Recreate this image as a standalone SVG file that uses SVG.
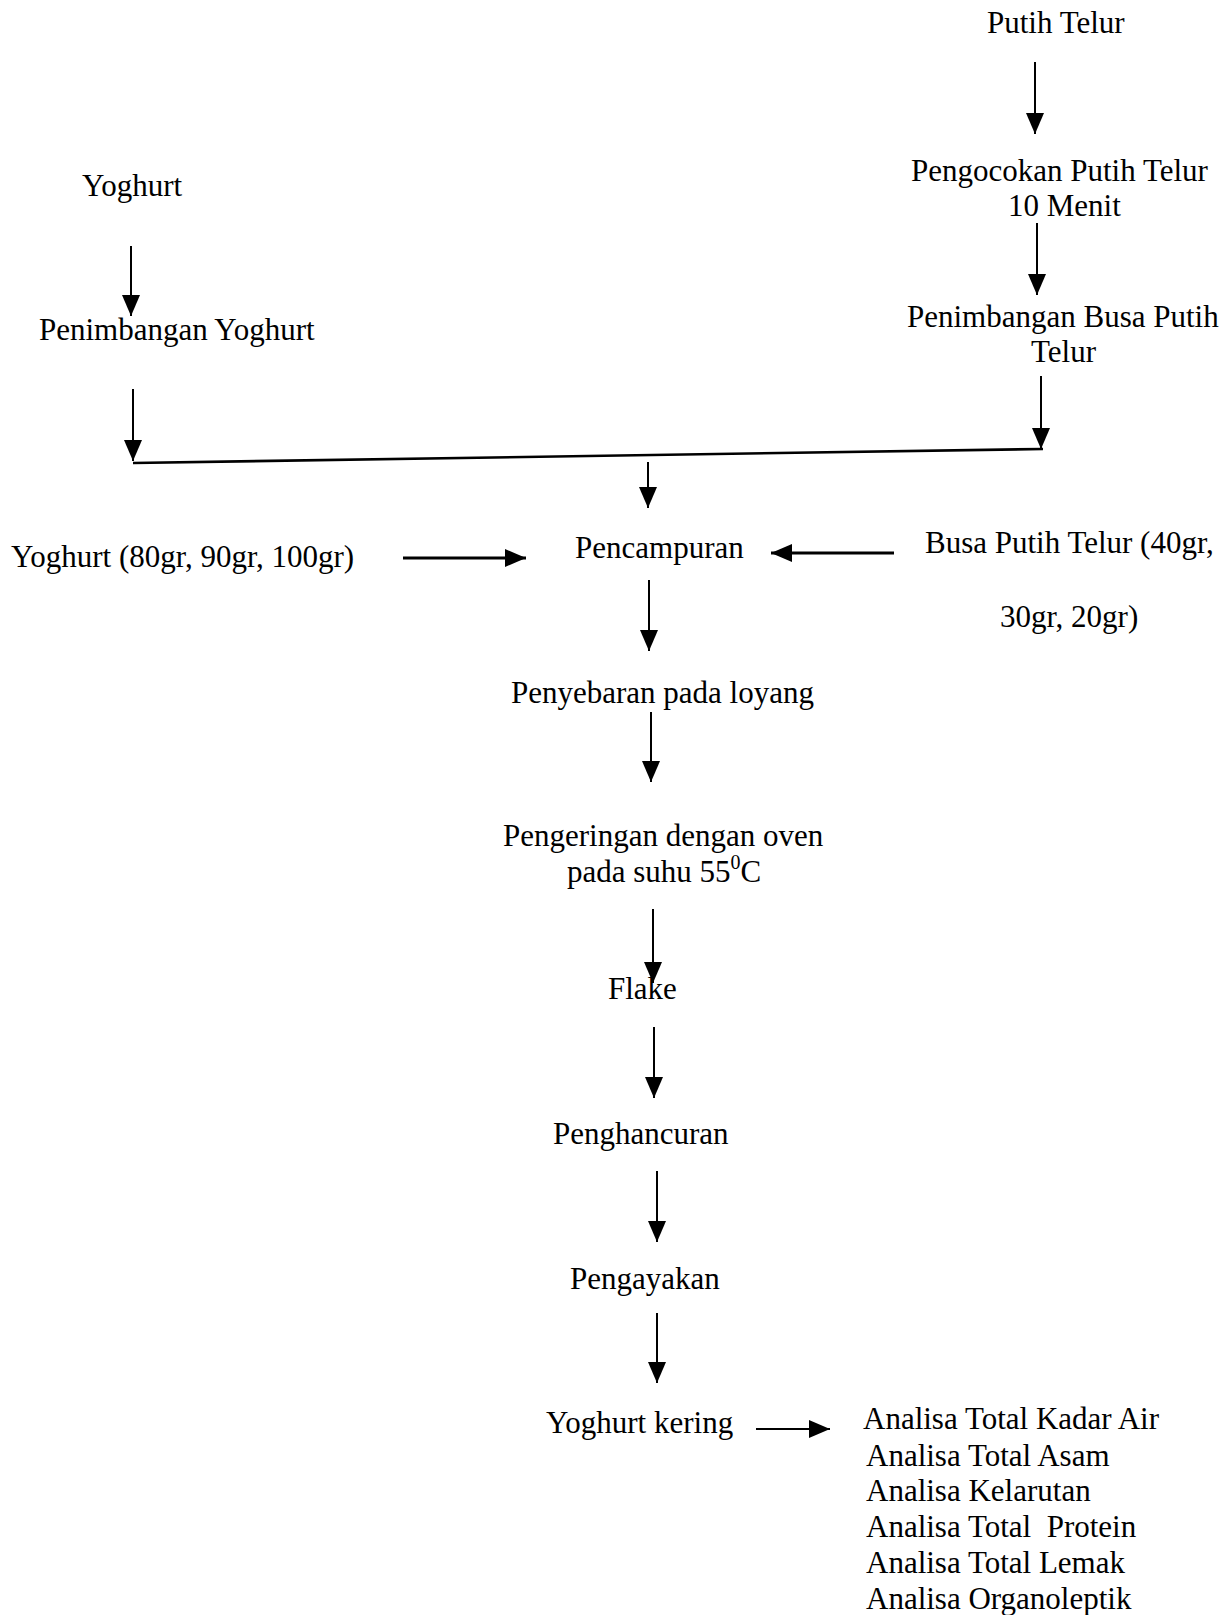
<svg xmlns="http://www.w3.org/2000/svg" width="1230" height="1615" viewBox="0 0 1230 1615">
<style>
text{font-family:"Liberation Serif","Times New Roman",serif;font-size:31px;fill:#000}
.c{stroke:#000;stroke-width:2;fill:none}
.t{stroke:#000;stroke-width:3;fill:none}
</style>
<defs>
<marker id="ah" markerUnits="userSpaceOnUse" markerWidth="22" markerHeight="20" refX="21" refY="9" orient="auto"><path d="M0,0 L21,9 L0,18 z" fill="#000"/></marker>
</defs>
<rect width="1230" height="1615" fill="#fff"/>
<g id="connectors">
<line class="c" x1="1035" y1="62" x2="1035" y2="134" marker-end="url(#ah)"/>
<line class="c" x1="1037" y1="223" x2="1037" y2="295" marker-end="url(#ah)"/>
<line class="c" x1="1041" y1="376" x2="1041" y2="449" marker-end="url(#ah)"/>
<line class="c" x1="131" y1="246" x2="131" y2="316" marker-end="url(#ah)"/>
<line class="c" x1="133" y1="389" x2="133" y2="461" marker-end="url(#ah)"/>
<line x1="133" y1="463" x2="1043" y2="449" stroke="#000" stroke-width="2.6"/>
<line class="c" x1="648" y1="462" x2="648" y2="508" marker-end="url(#ah)"/>
<line class="t" x1="403" y1="558" x2="526" y2="558" marker-end="url(#ah)"/>
<line class="t" x1="894" y1="553" x2="771" y2="553" marker-end="url(#ah)"/>
<line class="c" x1="649" y1="580" x2="649" y2="651" marker-end="url(#ah)"/>
<line class="c" x1="651" y1="712" x2="651" y2="782" marker-end="url(#ah)"/>
<line class="c" x1="653" y1="909" x2="653" y2="983" marker-end="url(#ah)"/>
<line class="c" x1="654" y1="1027" x2="654" y2="1098" marker-end="url(#ah)"/>
<line class="c" x1="657" y1="1171" x2="657" y2="1242" marker-end="url(#ah)"/>
<line class="c" x1="657" y1="1313" x2="657" y2="1383" marker-end="url(#ah)"/>
<line class="c" x1="756" y1="1429" x2="830" y2="1429" marker-end="url(#ah)"/>
</g>
<g id="putih-telur"><text x="987" y="33">Putih Telur</text></g>
<g id="yoghurt"><text x="82" y="196">Yoghurt</text></g>
<g id="pengocokan"><text x="911" y="181">Pengocokan Putih Telur</text><text x="1008" y="216">10 Menit</text></g>
<g id="penimbangan-yoghurt"><text x="39" y="340">Penimbangan Yoghurt</text></g>
<g id="penimbangan-busa"><text x="907" y="327">Penimbangan Busa Putih</text><text x="1031" y="362">Telur</text></g>
<g id="yoghurt-amount"><text x="11" y="567">Yoghurt (80gr, 90gr, 100gr)</text></g>
<g id="pencampuran"><text x="575" y="558">Pencampuran</text></g>
<g id="busa-amount"><text x="925" y="553">Busa Putih Telur (40gr,</text><text x="1000" y="627">30gr, 20gr)</text></g>
<g id="penyebaran"><text x="511" y="703">Penyebaran pada loyang</text></g>
<g id="pengeringan"><text x="503" y="846">Pengeringan dengan oven</text><text x="567" y="882">pada suhu 55<tspan font-size="20" dy="-13">0</tspan><tspan dy="13">C</tspan></text></g>
<g id="flake"><text x="608" y="999">Flake</text></g>
<g id="penghancuran"><text x="553" y="1144">Penghancuran</text></g>
<g id="pengayakan"><text x="570" y="1289">Pengayakan</text></g>
<g id="yoghurt-kering"><text x="546" y="1433">Yoghurt kering</text></g>
<g id="analisa">
<text x="863" y="1429">Analisa Total Kadar Air</text>
<text x="866" y="1466">Analisa Total Asam</text>
<text x="866" y="1501">Analisa Kelarutan</text>
<text x="866" y="1537" style="white-space:pre">Analisa Total  Protein</text>
<text x="866" y="1573">Analisa Total Lemak</text>
<text x="866" y="1609">Analisa Organoleptik</text>
</g>
</svg>
